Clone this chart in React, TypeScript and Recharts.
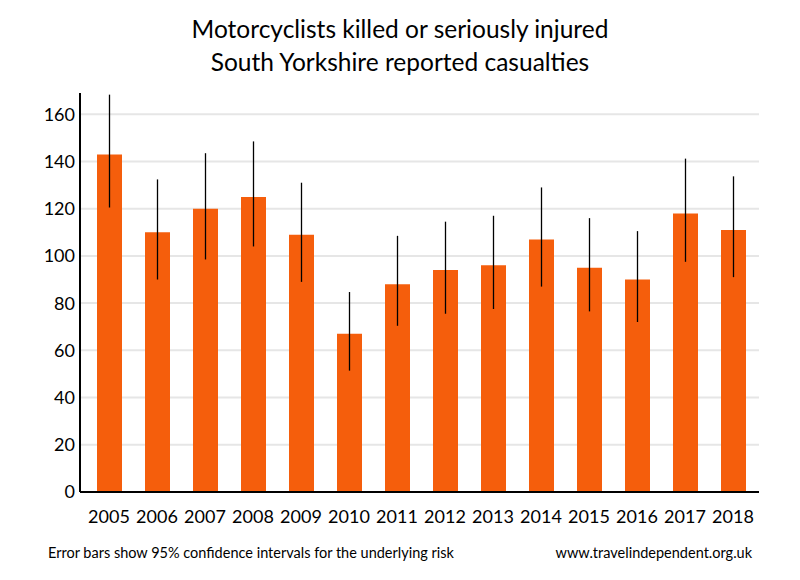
import React from "react";
import {
  BarChart,
  Bar,
  XAxis,
  YAxis,
  CartesianGrid,
  ErrorBar,
} from "recharts";

const years = [
  "2005", "2006", "2007", "2008", "2009", "2010", "2011",
  "2012", "2013", "2014", "2015", "2016", "2017", "2018",
];
const casualties = [143, 110, 120, 125, 109, 67, 88, 94, 96, 107, 95, 90, 118, 111];
const lowerCI = [120.5, 90, 98.5, 104, 89, 51.4, 70.4, 75.5, 77.5, 87, 76.5, 72, 97.5, 91];
const upperCI = [168.3, 132.4, 143.5, 148.5, 131, 84.7, 108.5, 114.5, 117, 129, 116, 110.5, 141.2, 133.7];
const yTicks = [0, 20, 40, 60, 80, 100, 120, 140, 160];
const gridValues = [20, 40, 60, 80, 100, 120, 140, 160];

const ORANGE = "#F55E0C";
const FONT = "Lato, 'Open Sans', sans-serif";

const data = years.map((year, i) => ({
  year,
  value: casualties[i],
  err: [casualties[i] - lowerCI[i], upperCI[i] - casualties[i]],
}));

export default function App() {
  return (
    <div
      style={{
        position: "absolute",
        left: 0,
        top: 0,
        width: 800,
        height: 580,
        background: "#fff",
        fontFamily: FONT,
        color: "#000",
      }}
    >
      <div
        style={{
          position: "absolute",
          top: 12,
          left: 0,
          width: 800,
          textAlign: "center",
          fontSize: 24.5,
          lineHeight: "33px",
        }}
      >
        Motorcyclists killed or seriously injured
        <br />
        South Yorkshire reported casualties
      </div>
      <BarChart
        width={800}
        height={580}
        data={data}
        margin={{ top: 93, right: 41, bottom: 58, left: 20 }}
        barSize={25}
      >
        <CartesianGrid
          horizontal
          vertical={false}
          horizontalValues={gridValues}
          stroke="#e6e6e6"
          strokeWidth={2}
        />
        <XAxis
          dataKey="year"
          height={30}
          padding={{ left: 5, right: 2 }}
          tickLine={false}
          axisLine={{ stroke: "#000", strokeWidth: 2 }}
          tick={{ fill: "#000", fontSize: 18, fontFamily: FONT }}
          tickSize={14}
          tickMargin={4}
          interval={0}
        />
        <YAxis
          width={60}
          domain={[0, 169]}
          ticks={yTicks}
          allowDataOverflow
          tickLine={false}
          axisLine={{ stroke: "#000", strokeWidth: 2 }}
          tick={{ fill: "#000", fontSize: 18, fontFamily: FONT }}
          tickSize={3}
          tickMargin={2}
        />
        <Bar dataKey="value" fill={ORANGE} isAnimationActive={false}>
          <ErrorBar
            dataKey="err"
            width={0}
            stroke="#000"
            strokeWidth={1.3}
            direction="y"
          />
        </Bar>
      </BarChart>
      <div
        style={{
          position: "absolute",
          top: 544,
          left: 48,
          fontSize: 14.5,
        }}
      >
        Error bars show 95% confidence intervals for the underlying risk
      </div>
      <div
        style={{
          position: "absolute",
          top: 544,
          right: 48,
          fontSize: 14.5,
        }}
      >
        www.travelindependent.org.uk
      </div>
    </div>
  );
}
